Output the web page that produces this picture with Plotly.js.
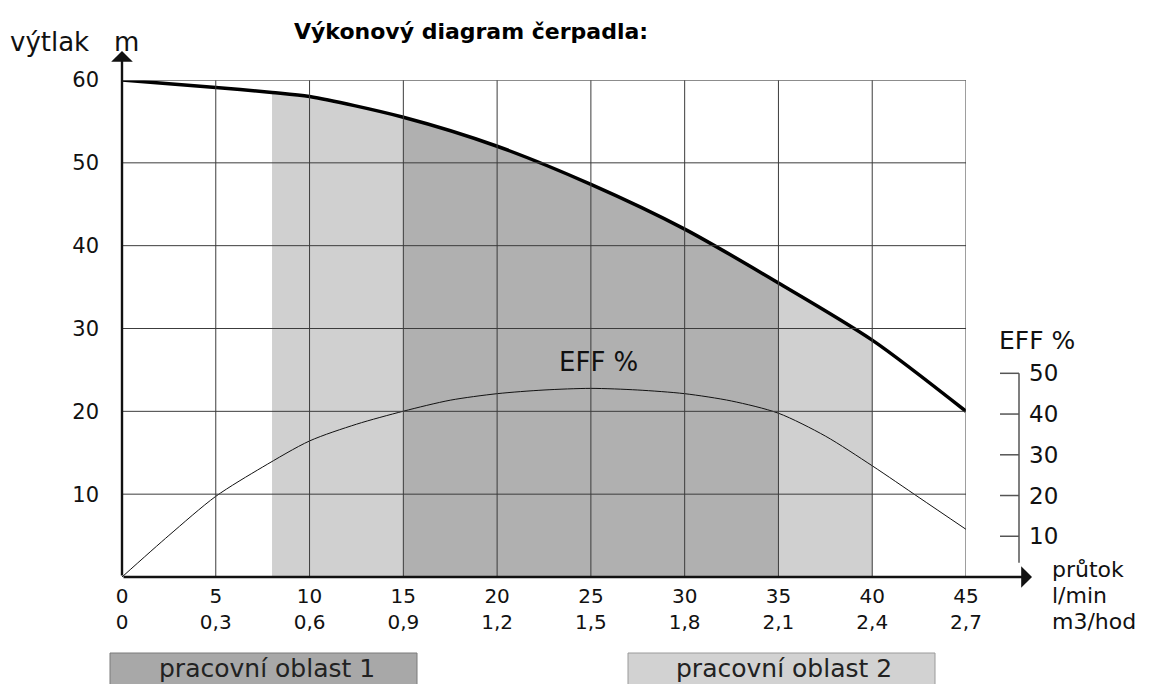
<!DOCTYPE html>
<html>
<head>
<meta charset="utf-8">
<script src="https://cdn.plot.ly/plotly-3.0.1.min.js"></script>
<style>html,body{margin:0;padding:0;background:#fff;}#chart{width:1165px;height:684px;}</style>
</head>
<body>
<div id="chart"></div>
<script>
// ---- data ----
const flowLmin = [0, 5, 10, 15, 20, 25, 30, 35, 40, 45];
const flowM3 = ['0', '0,3', '0,6', '0,9', '1,2', '1,5', '1,8', '2,1', '2,4', '2,7'];
const headTicks = [10, 20, 30, 40, 50, 60];
const effTicks = [10, 20, 30, 40, 50];

const headFlow = [0, 5, 8, 10, 15, 20, 25, 30, 35, 40, 45];
const headM = [60, 59.1, 58.5, 58, 55.5, 52, 47.4, 42, 35.5, 28.6, 20];

const effFlow = [0, 2.5, 5, 7.5, 10, 12.5, 15, 17.5, 20, 22.5, 25, 27.5, 30, 32.5, 35, 37.5, 40, 42.5, 45];
const effPct = [0, 10.2, 19.8, 27, 33.4, 37.5, 40.7, 43.4, 45, 45.9, 46.3, 45.9, 45, 43.2, 40.2, 34.6, 27.3, 19.5, 11.7];

const zone2 = [8, 40];   // pracovní oblast 2 (light)
const zone1 = [15, 35];  // pracovní oblast 1 (dark)

// ---- helpers ----
function subset(lo, hi) {
  const xs = [], ys = [];
  headFlow.forEach((x, i) => { if (x >= lo && x <= hi) { xs.push(x); ys.push(headM[i]); } });
  return {xs, ys};
}
const z2 = subset(zone2[0], zone2[1]);
const z1 = subset(zone1[0], zone1[1]);

const FONT = 'DejaVu Sans, Verdana, sans-serif';
const GRID = '#3c3c3c';

const traces = [
  {x: z2.xs, y: z2.ys, type: 'scatter', mode: 'lines', fill: 'tozeroy', fillcolor: '#d0d0d0',
   line: {width: 0, shape: 'spline', smoothing: 0.8, color: 'rgba(0,0,0,0)'}, hoverinfo: 'skip'},
  {x: z1.xs, y: z1.ys, type: 'scatter', mode: 'lines', fill: 'tozeroy', fillcolor: '#b0b0b0',
   line: {width: 0, shape: 'spline', smoothing: 0.8, color: 'rgba(0,0,0,0)'}, hoverinfo: 'skip'},
  {x: effFlow, y: effPct, yaxis: 'y2', type: 'scatter', mode: 'lines',
   line: {width: 1, color: '#111', shape: 'spline', smoothing: 0.8}, cliponaxis: false},
  {x: headFlow, y: headM, type: 'scatter', mode: 'lines',
   line: {width: 3.5, color: '#000', shape: 'spline', smoothing: 0.8}, cliponaxis: false}
];

const shapes = [];
// vertical grid lines
flowLmin.forEach(v => {
  if (v === 0) return;
  shapes.push({type: 'line', layer: 'above', xref: 'x', yref: 'paper', x0: v, x1: v, y0: 0, y1: 1,
    line: {color: GRID, width: 1}});
});
// horizontal grid lines
headTicks.forEach(v => {
  shapes.push({type: 'line', layer: 'above', xref: 'paper', yref: 'y', x0: 0, x1: 1, y0: v, y1: v,
    line: {color: v === 60 ? '#666' : GRID, width: v === 60 ? 1.5 : 1}});
});
// EFF axis (outside right)
const effAxX = (1019 - 122) / 844, effTickX0 = (1000 - 122) / 844;
shapes.push({type: 'line', layer: 'above', xref: 'paper', yref: 'y2', x0: effAxX, x1: effAxX,
  y0: Math.max(...effTicks), y1: 3.5, line: {color: '#555', width: 1.5}});
effTicks.forEach(v => {
  shapes.push({type: 'line', layer: 'above', xref: 'paper', yref: 'y2', x0: effTickX0, x1: effAxX, y0: v, y1: v,
    line: {color: '#555', width: 1.5}});
});
// legend boxes
shapes.push({type: 'rect', xref: 'paper', yref: 'paper', x0: (110 - 122) / 844, x1: (417 - 122) / 844,
  y0: (577 - 653) / 497, y1: (577 - 700) / 497, fillcolor: '#a8a8a8', line: {color: '#7a7a7a', width: 1}});
shapes.push({type: 'rect', xref: 'paper', yref: 'paper', x0: (628 - 122) / 844, x1: (935 - 122) / 844,
  y0: (577 - 653) / 497, y1: (577 - 700) / 497, fillcolor: '#d2d2d2', line: {color: '#9a9a9a', width: 1}});

const annotations = [];
// axes with arrows
annotations.push({xref: 'x', yref: 'paper', x: 0, y: (577 - 51) / 497, ax: 0, ay: 526, text: '',
  showarrow: true, arrowhead: 1, arrowsize: 1.5, arrowwidth: 2.4, arrowcolor: '#111', standoff: 0, startstandoff: 0});
annotations.push({xref: 'paper', yref: 'y', x: (1032 - 122) / 844, y: 0, ax: -910, ay: 0, text: '',
  showarrow: true, arrowhead: 1, arrowsize: 1.5, arrowwidth: 2.4, arrowcolor: '#111', standoff: 0, startstandoff: 0});
// y axis title
annotations.push({xref: 'paper', yref: 'paper', x: (8 - 122) / 844, y: (577 - 42) / 497, xanchor: 'left', yanchor: 'middle',
  text: 'výtlak', showarrow: false, font: {family: FONT, size: 26, color: '#111'}});
annotations.push({xref: 'paper', yref: 'paper', x: (126 - 122) / 844, y: (577 - 42) / 497, xanchor: 'center', yanchor: 'middle',
  text: 'm', showarrow: false, font: {family: FONT, size: 26, color: '#111'}});
// EFF labels
annotations.push({xref: 'x', yref: 'y2', x: 25.4, y: 48.6, xanchor: 'center', yanchor: 'bottom',
  text: 'EFF %', showarrow: false, font: {family: FONT, size: 26, color: '#111'}});
annotations.push({xref: 'paper', yref: 'paper', x: (997 - 122) / 844, y: (577 - 340) / 497, xanchor: 'left', yanchor: 'middle',
  text: 'EFF %', showarrow: false, font: {family: FONT, size: 25, color: '#111'}});
effTicks.forEach(v => {
  annotations.push({xref: 'paper', yref: 'y2', x: (1027 - 122) / 844, y: v, xanchor: 'left', yanchor: 'middle',
    text: String(v), showarrow: false, font: {family: FONT, size: 23, color: '#111'}});
});
// x axis unit labels
[['průtok', 569], ['l/min', 595], ['m3/hod', 621]].forEach(([t, py]) => {
  annotations.push({xref: 'paper', yref: 'paper', x: (1051 - 122) / 844, y: (577 - py) / 497, xanchor: 'left', yanchor: 'middle',
    text: t, showarrow: false, font: {family: FONT, size: 22, color: '#111'}, borderpad: 0});
});
// legend texts
annotations.push({xref: 'paper', yref: 'paper', x: (267 - 122) / 844, y: (577 - 668) / 497, xanchor: 'center', yanchor: 'middle',
  text: 'pracovní oblast 1', showarrow: false, font: {family: FONT, size: 25, color: '#222'}});
annotations.push({xref: 'paper', yref: 'paper', x: (784 - 122) / 844, y: (577 - 668) / 497, xanchor: 'center', yanchor: 'middle',
  text: 'pracovní oblast 2', showarrow: false, font: {family: FONT, size: 25, color: '#222'}});

const layout = {
  width: 1165, height: 684,
  margin: {l: 122, r: 199, t: 80, b: 107, pad: 0},
  paper_bgcolor: '#fff', plot_bgcolor: '#fff',
  showlegend: false,
  title: {text: 'Výkonový diagram čerpadla:', xref: 'container', yref: 'container',
    x: 294 / 1165, xanchor: 'left', y: 1 - 31 / 684, yanchor: 'middle',
    font: {family: FONT, size: 22, weight: 'bold', color: '#000'}},
  xaxis: {range: [0, 45], showgrid: false, zeroline: false, showline: false, ticks: '',
    tickvals: flowLmin, ticktext: flowLmin.map((v, i) => v + '<br>' + flowM3[i]),
    tickfont: {family: FONT, size: 20, color: '#111'}, ticklabelstandoff: 5, fixedrange: true},
  yaxis: {range: [0, 60], showgrid: false, zeroline: false, showline: false, ticks: '',
    tickvals: headTicks, ticktext: headTicks.map(String),
    tickfont: {family: FONT, size: 21, color: '#111'}, ticklabelstandoff: 22, fixedrange: true},
  yaxis2: {overlaying: 'y', range: [0, 122], visible: false, fixedrange: true},
  shapes: shapes,
  annotations: annotations
};

Plotly.newPlot('chart', traces, layout, {staticPlot: true});
</script>
</body>
</html>
